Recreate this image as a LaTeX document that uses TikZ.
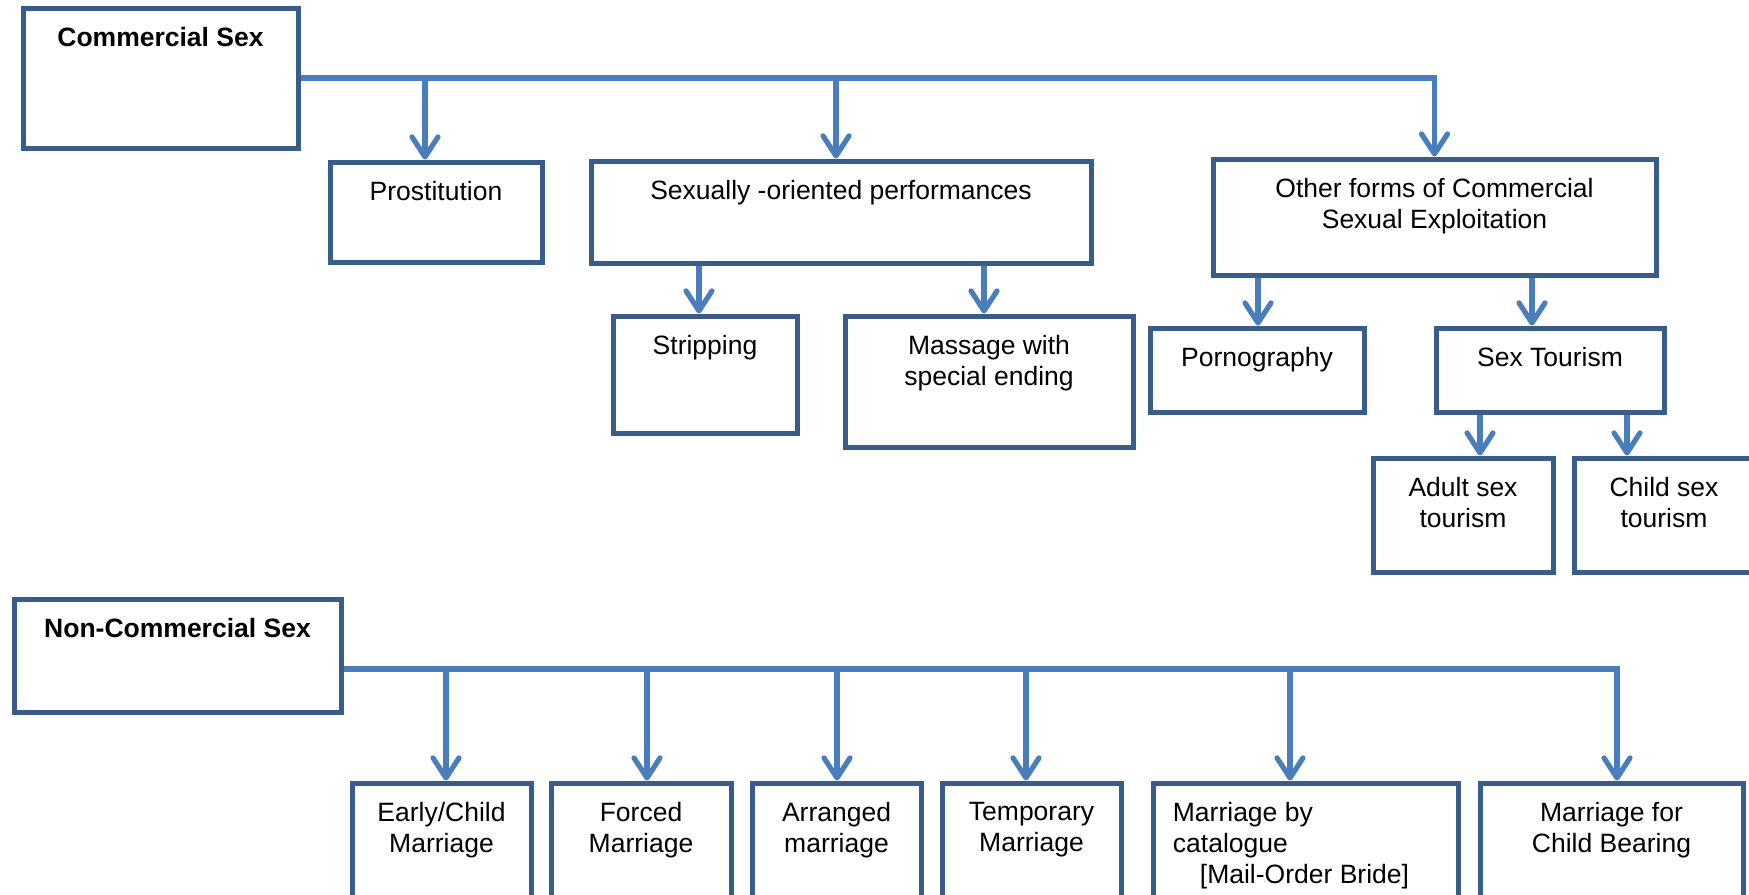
\documentclass[tikz,border=0pt]{standalone}
\usepackage{fontspec}
\setmainfont{Liberation Sans}
\usetikzlibrary{arrows.meta}
\definecolor{boxblue}{HTML}{385D8A}
\definecolor{linkblue}{HTML}{4A7EBB}

\begin{document}
\begin{tikzpicture}[
    x=.5pt,y=-.5pt,
    box/.style={draw=boxblue,line width=2.5pt,inner sep=0pt},
    txt/.style={inner sep=0pt,anchor=north,yshift=-10.5pt,align=center,font=\fontsize{13.25pt}{15.5pt}\selectfont},
    e/.style={-{Straight Barb[length=10pt,width=13pt,round]},line width=2.6pt,linkblue}
  ]
    \clip (0,0) rectangle (1749,894);
    % commercial part
    \node[box,minimum width=137.5pt,minimum height=70pt,label={[txt]north:\textbf{Commercial Sex}}] (cs) at (160.5,78) {};
    \node[box,minimum width=106pt,minimum height=50pt,label={[txt]north:Prostitution}] (pros) at (436,212) {};
    \node[box,minimum width=250pt,minimum height=51pt,label={[txt]north:Sexually -oriented performances}] (perf) at (841,212) {};
    \node[box,minimum width=221.5pt,minimum height=58pt,label={[txt]north:Other forms of Commercial\\Sexual Exploitation}] (oth) at (1434.5,217) {};
    \node[box,minimum width=92pt,minimum height=58.5pt,label={[txt]north:Stripping}] (strip) at (705,374.5) {};
    \node[box,minimum width=144pt,minimum height=65.5pt,label={[txt]north:Massage with\\special ending}] (mass) at (989,381.5) {};
    \node[box,minimum width=107pt,minimum height=42pt,label={[txt]north:Pornography}] (porn) at (1257,370) {};
    \node[box,minimum width=114pt,minimum height=42pt,label={[txt]north:Sex Tourism}] (tour) at (1550,370) {};
    \node[box,minimum width=90pt,minimum height=57pt,label={[txt]north:Adult sex\\tourism}] (adult) at (1463,515) {};
    \node[box,minimum width=90pt,minimum height=57pt,label={[txt]north:Child sex\\tourism}] (child) at (1664,515) {};
    \draw[e] (cs.east) -| (oth.north);
    \draw[e] (425,0 |- cs.east) -- (425,0 |- pros.north);
    \draw[e] (836,0 |- cs.east) -- (836,0 |- perf.north);
    \draw[e] (699,0 |- perf.south) -- (699,0 |- strip.north);
    \draw[e] (984,0 |- perf.south) -- (984,0 |- mass.north);
    \draw[e] (1258,0 |- oth.south) -- (1258,0 |- porn.north);
    \draw[e] (1532,0 |- oth.south) -- (1532,0 |- tour.north);
    \draw[e] (1480,0 |- tour.south) -- (1480,0 |- adult.north);
    \draw[e] (1627,0 |- tour.south) -- (1627,0 |- child.north);
    % non-commercial part
    \node[box,minimum width=163.5pt,minimum height=56.5pt,label={[txt]north:\textbf{Non-Commercial Sex}}] (ncs) at (177.5,655.5) {};
    \node[box,minimum width=89.5pt,minimum height=68.5pt,label={[txt]north:Early/Child\\Marriage}] (early) at (441.5,851.5) {};
    \node[box,minimum width=90pt,minimum height=68.5pt,label={[txt]north:Forced\\Marriage}] (forced) at (641,851.5) {};
    \node[box,minimum width=84.5pt,minimum height=68.5pt,label={[txt]north:Arranged\\marriage}] (arr) at (836.5,851.5) {};
    \node[box,minimum width=89.5pt,minimum height=68.5pt,label={[txt]north:Temporary\\Marriage}] (temp) at (1031.5,851.5) {};
    \node[box,minimum width=152.5pt,minimum height=68.5pt,label={[txt,anchor=north west,align=left,xshift=11pt]north west:Marriage by\\catalogue\\\hspace*{13.5pt}[Mail-Order Bride]}] (mcb) at (1305.5,851.5) {};
    \node[box,minimum width=131.5pt,minimum height=68.5pt,label={[txt]north:Marriage for\\Child Bearing}] (mcbear) at (1611.5,851.5) {};
    \coordinate (nbus) at (0,669);
    \draw[e] (ncs.east |- nbus) -| (1617,0 |- mcbear.north);
    \draw[e] (446,0 |- nbus) -- (446,0 |- early.north);
    \draw[e] (647,0 |- nbus) -- (647,0 |- forced.north);
    \draw[e] (837,0 |- nbus) -- (837,0 |- arr.north);
    \draw[e] (1026,0 |- nbus) -- (1026,0 |- temp.north);
    \draw[e] (1290,0 |- nbus) -- (1290,0 |- mcb.north);
  \end{tikzpicture}
\end{document}
